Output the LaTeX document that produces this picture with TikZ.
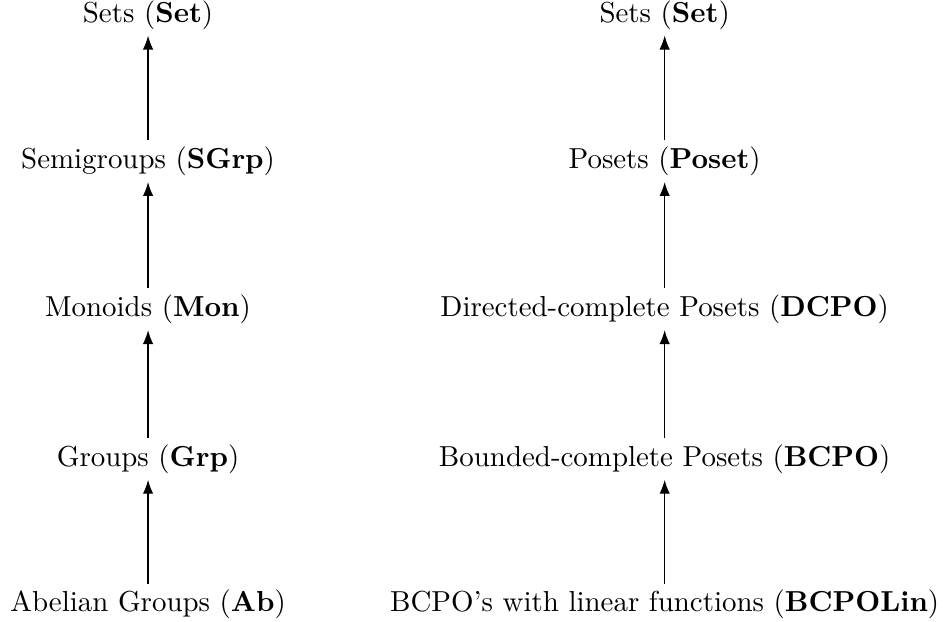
\documentclass[tikz,border=0pt]{standalone}
\usepackage{amsmath,amssymb}
\usetikzlibrary{arrows.meta,positioning}

\begin{document}
\begin{tikzpicture}[>=Latex, every node/.style={inner sep=2pt}]
  \useasboundingbox (0,0) rectangle (11.5,7.55);
  % left column
  \node (set1) at (1.80,7.37) {Sets (\textbf{Set})};
  \node (sgrp) at (1.80,5.59) {Semigroups (\textbf{SGrp})};
  \node (mon)  at (1.80,3.79) {Monoids (\textbf{Mon})};
  \node (grp)  at (1.80,1.97) {Groups (\textbf{Grp})};
  \node (ab)   at (1.80,0.20) {Abelian Groups (\textbf{Ab})};
  \draw[->] (sgrp) -- (set1);
  \draw[->] (mon) -- (sgrp);
  \draw[->] (grp) -- (mon);
  \draw[->] (ab) -- (grp);
  % right column
  \node (set2)  at (8.08,7.37) {Sets (\textbf{Set})};
  \node (poset) at (8.08,5.59) {Posets (\textbf{Poset})};
  \node (dcpo)  at (8.08,3.79) {Directed-complete Posets (\textbf{DCPO})};
  \node (bcpo)  at (8.08,1.97) {Bounded-complete Posets (\textbf{BCPO})};
  \node (lin)   at (8.08,0.20) {BCPO's with linear functions (\textbf{BCPOLin})};
  \draw[->] (poset) -- (set2);
  \draw[->] (dcpo) -- (poset);
  \draw[->] (bcpo) -- (dcpo);
  \draw[->] (lin) -- (bcpo);
\end{tikzpicture}
\end{document}
